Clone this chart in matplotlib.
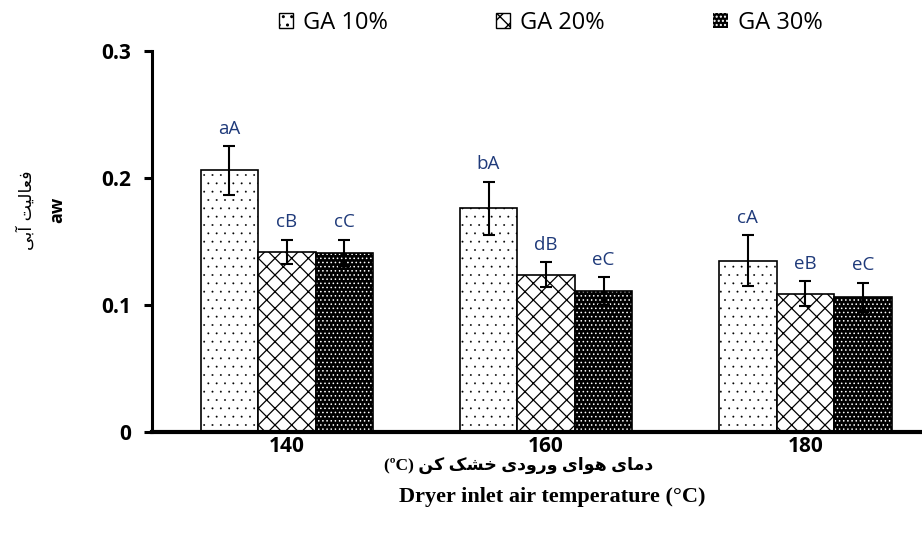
import numpy as np
import matplotlib
matplotlib.use("Agg")
import matplotlib.pyplot as plt
from matplotlib.patches import Patch

# داده ها
temps = ["140", "160", "180"]
ga10 = [0.206, 0.176, 0.135]
ga20 = [0.142, 0.124, 0.109]
ga30 = [0.141, 0.111, 0.106]
err10 = [0.019, 0.021, 0.020]
err20 = [0.0095, 0.0095, 0.010]
err30 = [0.0105, 0.011, 0.0115]
let10 = ["aA", "bA", "cA"]
let20 = ["cB", "dB", "eB"]
let30 = ["cC", "eC", "eC"]
series_names = ["GA 10%", "GA 20%", "GA 30%"]

# Persian labels written in shaped (presentation) forms, visual order
fa_ylabel = "\ufef0\ufe91\ufe81 \ufe96\ufef4\ufedf\ufe8e\ufecc\ufed3"
fa_xlabel = ("(\u00baC) " + "\ufee6\ufb90" + " " + "\ufb8f\ufeb8\ufea7" + " "
             + "\ufeef\ufea9\ufeed\ufead\ufeed" + " " + "\ufeef\ufe8d\ufeee\ufeeb"
             + " " + "\ufeef\ufe8e\ufee3\ufea9")
en_xlabel = "Dryer inlet air temperature (\u00b0C)"

navy = "#1F3A7A"

fig = plt.figure(figsize=(9.22, 5.39), dpi=100)
ax = fig.add_axes([0.1649, 0.1985, 0.8351, 0.7069])

x = np.arange(len(temps))
w = 0.222
err_kw = dict(ecolor="black", elinewidth=1.5, capsize=4.5, capthick=1.5)

with plt.rc_context({"hatch.linewidth": 0.15}):
    b10 = ax.bar(x - w, ga10, w, yerr=err10, color="white", edgecolor="black",
                 linewidth=1.2, hatch="..", error_kw=err_kw, zorder=2)
with plt.rc_context({"hatch.linewidth": 0.9}):
    b20 = ax.bar(x, ga20, w, yerr=err20, color="white", edgecolor="black",
                 linewidth=1.2, hatch="xx", error_kw=err_kw, zorder=2)
with plt.rc_context({"hatch.linewidth": 0.6}):
    b30 = ax.bar(x + w, ga30, w, color="black", edgecolor="white",
                 linewidth=0, hatch="....", zorder=2)
ax.bar(x + w, ga30, w, yerr=err30, fill=False, edgecolor="black",
       linewidth=1.2, error_kw=err_kw, zorder=3)

for off, vals, errs, labs in [(-w, ga10, err10, let10), (0, ga20, err20, let20),
                              (w, ga30, err30, let30)]:
    for xi, v, e, t in zip(x + off, vals, errs, labs):
        ax.annotate(t, xy=(xi, v + e), xytext=(0, 6), textcoords="offset points",
                    ha="center", va="bottom", color=navy, fontsize=13.5,
                    family="Open Sans")

ax.set_xlim(-0.52, 2.45)
ax.set_ylim(0, 0.3)
ax.set_yticks([0, 0.1, 0.2, 0.3])
ax.set_yticklabels(["0", "0.1", "0.2", "0.3"])
ax.set_xticks(x)
ax.set_xticklabels(temps)
for lab in ax.get_xticklabels() + ax.get_yticklabels():
    lab.set_family("Open Sans")
    lab.set_fontweight("bold")
    lab.set_fontsize(15)

ax.spines["top"].set_visible(False)
ax.spines["right"].set_visible(False)
ax.spines["left"].set_linewidth(2.2)
ax.spines["bottom"].set_linewidth(3)
ax.tick_params(axis="y", direction="out", length=6, width=2.2, pad=9)
ax.tick_params(axis="x", length=0, pad=3)

# y label (two lines)
fig.text(0.029, 0.61, fa_ylabel, rotation=90, ha="center", va="center",
         fontsize=12.5, family="DejaVu Sans")
fig.text(0.062, 0.61, "aw", rotation=90, ha="center", va="center",
         fontsize=13, family="Open Sans", fontweight="bold")

# x labels
fig.text(0.562, 0.137, fa_xlabel, ha="center", va="center", fontsize=12.5,
         family=["Liberation Serif", "DejaVu Sans"], fontweight="bold")
fig.text(0.599, 0.078, en_xlabel, ha="center", va="center", fontsize=16,
         family="Liberation Serif", fontweight="bold")

with plt.rc_context({"hatch.linewidth": 0.6}):
    handles = [Patch(facecolor="white", edgecolor="black", hatch="..", linewidth=1),
               Patch(facecolor="white", edgecolor="black", hatch="xx", linewidth=1),
               Patch(facecolor="black", edgecolor="white", hatch="....", linewidth=0)]
fig.legend(handles, series_names, loc="center", bbox_to_anchor=(0.597, 0.958),
           ncol=3, frameon=False, prop={"family": "Open Sans", "size": 17},
           handlelength=0.6, handleheight=0.6, handletextpad=0.42,
           columnspacing=4.6)

fig.savefig("out.png", dpi=100)
